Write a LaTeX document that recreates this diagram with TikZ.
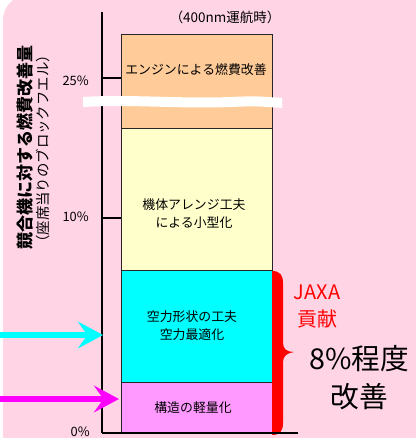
\documentclass[tikz,border=0pt]{standalone}
\usepackage{fontspec}
\setmainfont{Noto Sans CJK JP}
\usepackage{xcolor}
\usetikzlibrary{arrows.meta, positioning}

\definecolor{bgpink}{RGB}{255,213,230}
\definecolor{engorange}{RGB}{255,204,153}
\definecolor{bodyyellow}{RGB}{255,255,204}
\definecolor{structpink}{RGB}{255,153,255}
\definecolor{aerocyan}{RGB}{0,255,255}
\definecolor{arrowmag}{RGB}{255,0,255}
\definecolor{jaxared}{RGB}{255,0,0}

\begin{document}
\begin{tikzpicture}[
    x=0.03cm, y=-0.03cm,
    seg/.style={draw=black!85, line width=0.7pt},
    inbar/.style={font=\fontsize{11}{15.4}\selectfont, align=center, inner sep=0pt},
    ticklabel/.style={font=\fontsize{11}{13}\selectfont, anchor=east, inner sep=0pt},
    axisline/.style={line width=1.8pt},
    bigarrow/.style={line width=5.5pt, -{Stealth[length=0.75cm, width=0.8cm, inset=0.28cm]}}
]
    \useasboundingbox (0,0) rectangle (416,438);
    % background panel
    \fill[bgpink, rounded corners=0.75cm] (3,-5) rectangle (440,460);

    % stacked bar
    \draw[seg, fill=structpink] (121,382) rectangle (272,433);
    \draw[seg, fill=aerocyan] (121,270) rectangle (272,382);
    \draw[seg, fill=bodyyellow] (121,128) rectangle (272,270);
    \draw[seg, fill=engorange] (121,34) rectangle (272,128);

    % axis and ticks
    \coordinate (axtop) at (102,12);
    \coordinate (origin) at (102,433);
    \coordinate (baseend) at (298,433);
    \coordinate (tick25) at (102,78);
    \coordinate (tick10) at (102,218);
    \draw[axisline] (axtop) -- (origin);
    \draw[axisline] (tick25) -- ++(19,0);
    \draw[axisline] (tick10) -- ++(19,0);

    % break mark
    \fill[white] (83,97) .. controls (130,94) and (180,99) .. (230,97)
        .. controls (255,96) .. (282,98) -- (282,108)
        .. controls (255,106) .. (230,107)
        .. controls (180,109) and (130,104) .. (83,107) -- cycle;

    % JAXA brace
    \fill[jaxared] (272,271) .. controls (280,271) and (283,275) .. (283,283) -- (283,343)
        .. controls (283,349) and (287,352) .. (294,352)
        .. controls (287,353) and (283,356) .. (283,362) -- (283,423)
        .. controls (283,431) and (280,435) .. (272,435) -- cycle;
    \draw[axisline] (origin) -- (baseend);

    % tick labels
    \node[ticklabel] (lab25) at (89,81) {25\%};
    \node[ticklabel] (lab10) at (89,217) {10\%};
    \node[ticklabel] (lab0) at (90,432) {0\%};

    % y axis title
    \node[inner sep=0pt, rotate=90, anchor=west, font=\fontsize{14.5}{16}\selectfont\bfseries] (ytitle) at (25,250) {競合機に対する燃費改善量};
    \node[inner sep=0pt, rotate=90, anchor=west, font=\fontsize{12.3}{14}\selectfont] (ysub) at (43,250) {（座席当りのブロックフエル）};

    % header
    \node[inner sep=0pt, font=\fontsize{11.5}{13}\selectfont] (cond) at (225,17) {（400nm運航時）};

    % bar texts
    \node[inbar] (engine) at (196,70) {エンジンによる燃費改善};
    \node[inbar] (body) at (194,214) {機体アレンジ工夫\\による小型化};
    \node[inbar] (aero) at (192,326) {空力形状の工夫\\空力最適化};
    \node[inbar] (struct) at (193,408) {構造の軽量化};

    % arrows
    \coordinate (cyanstart) at (0,335);
    \coordinate (cyanend) at (103,335);
    \coordinate (magstart) at (0,399);
    \coordinate (magend) at (119,399);
    \draw[bigarrow, aerocyan] (cyanstart) -- (cyanend);
    \draw[bigarrow, arrowmag] (magstart) -- (magend);

    % contribution labels
    \node[inner sep=0pt, jaxared, font=\fontsize{17}{20}\selectfont] (jaxa) at (317,292) {JAXA};
    \node[inner sep=0pt, jaxared, font=\fontsize{17}{20}\selectfont] (kouken) at (317,319) {貢献};
    \node[inner sep=0pt, font=\fontsize{24.5}{28}\selectfont] (eight) at (359,359) {8\%程度};
    \node[inner sep=0pt, font=\fontsize{24.5}{28}\selectfont] (kaizen) at (359,397) {改善};
\end{tikzpicture}
\end{document}
